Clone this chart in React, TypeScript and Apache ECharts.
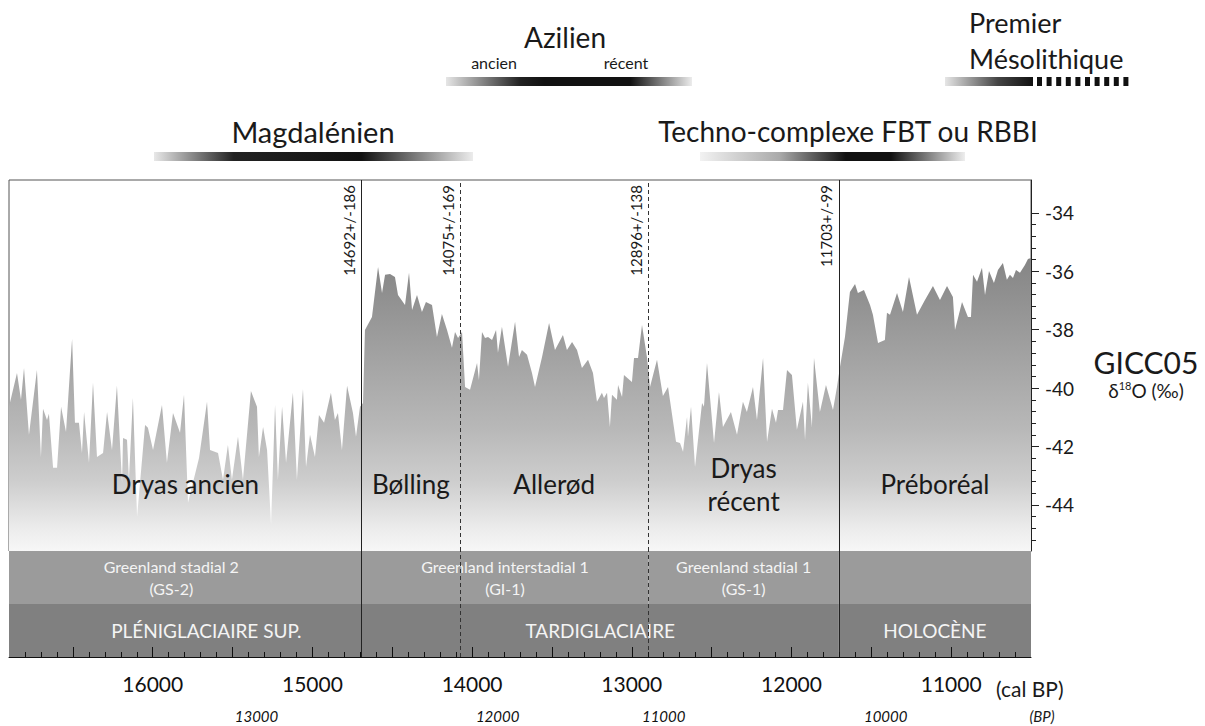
import React, { useEffect, useRef } from "react";
import * as echarts from "echarts";

const FONT = "Lato, 'Open Sans', 'DejaVu Sans', sans-serif";

const X_MIN = 10500;
const X_MAX = 16900;
const Y_MIN = -45.58;
const Y_MAX = -32.87;

// GICC05 δ18O record (cal BP ages)
const ageCalBP = [
  16900, 16850, 16825, 16806, 16775, 16725, 16700, 16687, 16662, 16650, 16624, 16599, 16574, 16543, 16505, 16487,
  16462, 16443, 16430, 16399, 16374, 16349, 16311, 16286, 16255, 16224, 16192, 16186, 16161, 16149, 16124, 16098,
  16048, 16030, 15998, 15942, 15911, 15873, 15829, 15804, 15779, 15710, 15660, 15641, 15591, 15560, 15529, 15504,
  15466, 15435, 15385, 15347, 15335, 15309, 15284, 15259, 15234, 15216, 15190, 15165, 15122, 15097, 15059, 15040,
  15015, 14984, 14959, 14927, 14884, 14859, 14840, 14815, 14783, 14746, 14727, 14702,
  14683, 14671, 14627, 14589, 14564, 14545, 14514, 14483, 14464, 14420, 14395, 14376, 14345, 14314, 14289, 14251,
  14220, 14189, 14157, 14126, 14107, 14088, 14063,
  14044, 14013, 13969, 13957, 13938, 13919, 13900, 13875, 13850, 13838, 13813, 13775, 13731, 13706, 13688, 13656,
  13625, 13606, 13562, 13518, 13481, 13431, 13406, 13374, 13343, 13312, 13274, 13243, 13218, 13187, 13174, 13155,
  13137, 13124, 13093, 13086, 13061, 13049, 12999, 12986, 12961, 12936, 12905,
  12886, 12842, 12805, 12773, 12723, 12698, 12679, 12654, 12648, 12629, 12604, 12560, 12548, 12529, 12485, 12454,
  12429, 12379, 12341, 12304, 12279, 12241, 12216, 12178, 12153, 12122, 12097, 12084, 12053, 12028, 11997, 11966,
  11928, 11915, 11897, 11872, 11859, 11822, 11784, 11740, 11715,
  11696, 11665, 11634, 11602, 11584, 11546, 11508, 11490, 11458, 11415, 11402, 11383, 11339, 11302, 11264, 11214,
  11164, 11114, 11070, 11026, 10989, 10976, 10932, 10895, 10876, 10863, 10838, 10807, 10788, 10763, 10732, 10707,
  10676, 10651, 10632, 10613, 10594, 10569, 10538, 10519, 10500,
];

const d18O = [
  -40.64, -39.48, -40.4, -39.31, -41.6, -39.38, -42.36, -40.71, -41.09, -40.88, -42.73, -42.73, -40.64, -41.5, -38.32, -41.19,
  -41.19, -42.22, -40.82, -42.56, -39.82, -42.36, -42.22, -40.82, -42.12, -39.92, -43.25, -41.71, -41.77, -43.14, -40.34, -44.41,
  -41.26, -41.36, -42.12, -40.58, -42.56, -40.85, -41.53, -40.23, -43.93, -42.39, -40.47, -42.12, -42.22, -43.14, -41.95, -43.14,
  -41.67, -43.14, -40.1, -40.64, -42.36, -41.33, -42.12, -44.68, -40.58, -43.14, -40.64, -42.56, -40.16, -43.14, -40.03, -42.7,
  -41.6, -42.36, -40.92, -41.19, -40.16, -41.09, -40.85, -42.12, -39.92, -40.85, -41.67, -40.64,
  -40.51, -38.01, -37.56, -35.85, -36.74, -36.12, -36.09, -36.19, -36.81, -37.15, -36.05, -37.32, -36.81, -37.39, -37.05, -37.15,
  -38.25, -37.46, -38.01, -38.62, -38.08, -38.28, -38.08,
  -39.96, -40.06, -39.14, -39.72, -38.08, -38.28, -38.25, -38.35, -38.01, -38.79, -37.9, -39.27, -37.73, -38.93, -38.69, -38.86,
  -39.48, -39.96, -38.93, -37.77, -38.69, -38.18, -38.69, -38.42, -38.69, -39.31, -39.03, -39.48, -40.47, -40.16, -40.34, -40.16,
  -41.33, -40.23, -40.4, -39.89, -40.3, -39.55, -39.79, -38.97, -38.97, -37.84, -38.93,
  -39.96, -39.03, -40.27, -39.96, -41.84, -41.88, -42.18, -40.99, -41.67, -40.64, -42.7, -40.51, -40.64, -39.14, -41.88, -40.13,
  -41.33, -40.82, -41.6, -40.47, -40.82, -39.96, -41.09, -38.97, -41.84, -40.71, -41.19, -40.75, -40.75, -39.38, -39.55, -41.43,
  -40.47, -41.77, -39.82, -41.33, -38.97, -40.82, -39.89, -40.75, -39.96,
  -39.27, -38.25, -36.71, -36.43, -36.74, -36.64, -37.15, -37.49, -38.45, -38.35, -37.42, -37.49, -36.74, -37.39, -36.19, -37.49,
  -36.98, -36.5, -36.98, -36.5, -36.88, -38.01, -37.05, -37.56, -37.56, -36.12, -36.36, -35.88, -36.81, -35.99, -36.4, -35.95,
  -35.71, -36.29, -36.12, -36.23, -35.95, -36.05, -35.78, -35.58, -35.54,
];

const calLabels = [16000, 15000, 14000, 13000, 12000, 11000];
const calMajorTicks = [11000, 11500, 12000, 12500, 13000, 13500, 14000, 14500, 15000, 15500, 16000, 16500];
const calMinorTicks: number[] = [];
for (let v = 10600; v <= 16800; v += 100) if (v % 500 !== 0) calMinorTicks.push(v);

const bpPositions = [15350, 13840, 12800, 11410];
const bpLabels = ["13000", "12000", "11000", "10000"];

const yLabels = [-44, -42, -40, -38, -36, -34];
const yMinorTicks: number[] = [];
for (let k = -113; k <= -86; k++) if (k % 5 !== 0) yMinorTicks.push(Math.round(k * 4) / 10);

const boundaries = [
  { age: 14692, label: "14692+/-186", dashed: false },
  { age: 14075, label: "14075+/-169", dashed: true },
  { age: 12896, label: "12896+/-138", dashed: true },
  { age: 11703, label: "11703+/-99", dashed: false },
];

const chronozones = [
  { name: "Dryas ancien", from: 16900, to: 14692 },
  { name: "Bølling", from: 14692, to: 14075 },
  { name: "Allerød", from: 14075, to: 12896 },
  { name: "Dryas\nrécent", from: 12896, to: 11703 },
  { name: "Préboréal", from: 11703, to: 10500 },
];

const greenland = [
  { name: "Greenland stadial 2\n(GS-2)", from: 16900, to: 14692 },
  { name: "Greenland interstadial 1\n(GI-1)", from: 14692, to: 12896 },
  { name: "Greenland stadial 1\n(GS-1)", from: 12896, to: 11703 },
  { name: "", from: 11703, to: 10500 },
];
const greenlandShift = [-14, 0, 0, 0];

const periods = [
  { name: "PLÉNIGLACIAIRE SUP.", from: 16900, to: 14692 },
  { name: "TARDIGLACIAIRE", from: 14692, to: 11703 },
  { name: "HOLOCÈNE", from: 11703, to: 10500 },
];
const periodShift = [21, 0, 0];

function txt(text: string, x: number, y: number, size: number, align = "center", extra: any = {}) {
  return {
    type: "text",
    silent: true,
    style: {
      text,
      x,
      y,
      fontSize: size,
      fontFamily: FONT,
      fill: "#1a1a1a",
      textAlign: align,
      textVerticalAlign: "middle",
      ...extra,
    },
  };
}

function bar(x: number, y: number, w: number, stops: [number, string][]) {
  return {
    type: "rect",
    silent: true,
    shape: { x, y, width: w, height: 9 },
    style: {
      fill: new echarts.graphic.LinearGradient(
        0, 0, 1, 0,
        stops.map(([offset, color]) => ({ offset, color }))
      ),
    },
  };
}

export default function App() {
  const ref = useRef<HTMLDivElement>(null);

  useEffect(() => {
    if (!ref.current) return;
    const chart = echarts.init(ref.current, undefined, { renderer: "svg" });

    const areaGradient = new echarts.graphic.LinearGradient(
      0, 180, 0, 551,
      [
        { offset: 0, color: "#6e6e6e" },
        { offset: 0.24, color: "#888888" },
        { offset: 0.67, color: "#b8b8b8" },
        { offset: 0.81, color: "#cdcdcd" },
        { offset: 0.94, color: "#ececec" },
        { offset: 1, color: "#f7f7f7" },
      ],
      true
    );

    const lineFor = (b: { dashed: boolean }) => ({
      type: b.dashed ? [4, 3] : "solid",
      color: b.dashed ? "#333" : "#222",
      width: 1,
    });

    const option: any = {
      animation: false,
      backgroundColor: "#ffffff",
      textStyle: { fontFamily: FONT },
      grid: [
        { left: 9, top: 180, width: 1022, height: 371, show: true, borderColor: "#555", borderWidth: 1, backgroundColor: "transparent" },
        { left: 9, top: 551, width: 1022, height: 106, show: false },
      ],
      xAxis: [
        { type: "value", gridIndex: 0, min: X_MIN, max: X_MAX, inverse: true, show: false },
        {
          type: "value", gridIndex: 1, min: X_MIN, max: X_MAX, inverse: true, position: "bottom", z: 10,
          axisLine: { show: true, lineStyle: { color: "#111", width: 1 } },
          axisTick: { show: true, inside: true, length: 10, customValues: calMajorTicks, lineStyle: { color: "#111" } },
          axisLabel: {
            customValues: calLabels, formatter: (v: number) => String(v),
            fontSize: 21, color: "#111", margin: 16, fontFamily: FONT,
          },
          splitLine: { show: false },
        },
        {
          type: "value", gridIndex: 1, min: X_MIN, max: X_MAX, inverse: true, position: "bottom", z: 10,
          axisLine: { show: false },
          axisTick: { show: true, inside: true, length: 5, customValues: calMinorTicks, lineStyle: { color: "#111" } },
          axisLabel: { show: false },
          splitLine: { show: false },
        },
        {
          type: "value", gridIndex: 1, min: X_MIN, max: X_MAX, inverse: true, position: "bottom",
          axisLine: { show: false },
          axisTick: { show: false },
          axisLabel: {
            customValues: bpPositions,
            formatter: (v: number) => bpLabels[bpPositions.indexOf(v)] ?? "",
            fontSize: 15, fontStyle: "italic", color: "#111", margin: 51, fontFamily: FONT,
          },
          splitLine: { show: false },
        },
      ],
      yAxis: [
        {
          type: "value", gridIndex: 0, min: Y_MIN, max: Y_MAX, position: "right",
          axisLine: { show: true, lineStyle: { color: "#222", width: 1 } },
          axisTick: { show: true, length: 8, customValues: yLabels, lineStyle: { color: "#222" } },
          axisLabel: {
            customValues: yLabels, formatter: (v: number) => String(v),
            fontSize: 19, color: "#1a1a1a", margin: 14, fontFamily: FONT,
          },
          splitLine: { show: false },
        },
        {
          type: "value", gridIndex: 0, min: Y_MIN, max: Y_MAX, position: "right",
          axisLine: { show: false },
          axisTick: { show: true, length: 5, customValues: yMinorTicks, lineStyle: { color: "#222" } },
          axisLabel: { show: false },
          splitLine: { show: false },
        },
        { type: "value", gridIndex: 1, min: 0, max: 2, show: false },
      ],
      series: [
        {
          type: "line",
          xAxisIndex: 0,
          yAxisIndex: 0,
          data: ageCalBP.map((a, i) => [a, d18O[i]]),
          showSymbol: false,
          symbol: "none",
          lineStyle: { width: 0 },
          areaStyle: { color: areaGradient, origin: "start", opacity: 1 },
          silent: true,
          markArea: {
            silent: true,
            z: 10,
            itemStyle: { color: "rgba(0,0,0,0)" },
            label: {
              show: true,
              position: ["50%", "82%"],
              align: "center",
              verticalAlign: "middle",
              fontSize: 26,
              lineHeight: 33,
              color: "#1a1a1a",
              fontFamily: FONT,
            },
            data: chronozones.map((z) => [{ xAxis: z.from, name: z.name }, { xAxis: z.to }]),
          },
          markLine: {
            silent: true,
            symbol: ["none", "none"],
            data: boundaries.map((b) => ({
              xAxis: b.age,
              lineStyle: lineFor(b),
              label: {
                show: true,
                formatter: b.label,
                position: "insideEndTop",
                fontSize: 15,
                color: "#1a1a1a",
                fontFamily: FONT,
              },
            })),
          },
        },
        {
          type: "line",
          xAxisIndex: 1,
          yAxisIndex: 2,
          data: [[X_MAX, 0]],
          symbol: "none",
          lineStyle: { opacity: 0 },
          silent: true,
          markArea: {
            silent: true,
            data: [
              ...greenland.map((g, i) => [
                {
                  xAxis: g.from, yAxis: 2, name: g.name,
                  itemStyle: { color: "#9b9b9b" },
                  label: {
                    show: true, position: "inside", offset: [greenlandShift[i], 0],
                    fontSize: 16, lineHeight: 22, color: "#f4f4f4", fontFamily: FONT,
                  },
                },
                { xAxis: g.to, yAxis: 1 },
              ]),
              ...periods.map((p, i) => [
                {
                  xAxis: p.from, yAxis: 1, name: p.name,
                  itemStyle: { color: "#808080" },
                  label: {
                    show: true, position: "inside", offset: [periodShift[i], 0],
                    fontSize: 19, color: "#f4f4f4", fontFamily: FONT,
                  },
                },
                { xAxis: p.to, yAxis: 0 },
              ]),
            ],
          },
          markLine: {
            silent: true,
            symbol: ["none", "none"],
            label: { show: false },
            data: boundaries.map((b) => ({ xAxis: b.age, lineStyle: lineFor(b) })),
          },
        },
      ],
      graphic: [
        txt("Azilien", 565, 37, 28),
        txt("ancien", 494, 62, 16),
        txt("récent", 626, 62, 16),
        bar(446, 77, 246, [[0, "#e6e6e6"], [0.3, "#222"], [0.4, "#111"], [0.75, "#111"], [1, "#ececec"]]),
        txt("Premier", 969, 22, 27, "left"),
        txt("Mésolithique", 969, 58, 27, "left"),
        bar(945, 77, 88, [[0, "#e6e6e6"], [0.6, "#444"], [1, "#111"]]),
        {
          type: "line",
          silent: true,
          shape: { x1: 1037, y1: 81.5, x2: 1133, y2: 81.5 },
          style: { stroke: "#111", lineWidth: 9, lineDash: [5, 4.6] },
        },
        txt("Magdalénien", 313, 131, 29),
        bar(154, 152, 319, [[0, "#e8e8e8"], [0.25, "#222"], [0.65, "#111"], [1, "#ececec"]]),
        txt("Techno-complexe FBT ou RBBI", 848, 131, 28),
        bar(700, 152, 265, [[0, "#f2f2f2"], [0.3, "#aaa"], [0.55, "#111"], [0.72, "#111"], [1, "#eeeeee"]]),
        txt("GICC05", 1146, 362, 30),
        {
          type: "text",
          silent: true,
          style: {
            text: "{a|δ}{s|18}{a|O (‰)}",
            x: 1146,
            y: 390,
            textAlign: "center",
            textVerticalAlign: "middle",
            fill: "#1a1a1a",
            fontFamily: FONT,
            rich: {
              a: { fontSize: 19, fontFamily: FONT, fill: "#1a1a1a" },
              s: { fontSize: 11, fontFamily: FONT, fill: "#1a1a1a", padding: [0, 0, 9, 0] },
            },
          },
        },
        txt("(cal BP)", 996, 688, 21, "left"),
        txt("(BP)", 1042, 716, 15, "center", { fontStyle: "italic" }),
      ],
    };

    chart.setOption(option);
    return () => chart.dispose();
  }, []);

  return (
    <div
      ref={ref}
      style={{ position: "fixed", left: 0, top: 0, width: 1205, height: 726, background: "#fff" }}
    />
  );
}
